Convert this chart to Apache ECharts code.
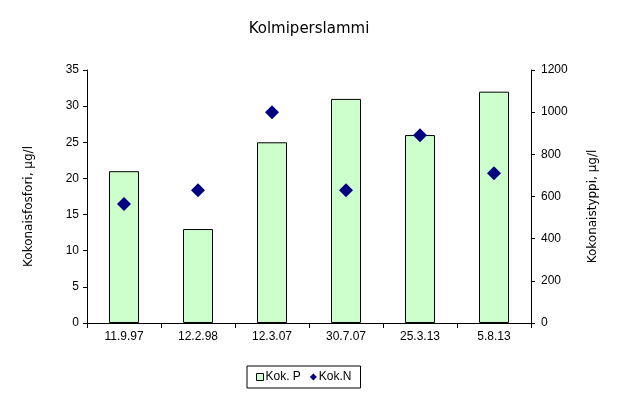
<!DOCTYPE html>
<html><head><meta charset="utf-8">
<script src="https://cdn.jsdelivr.net/npm/echarts@6/dist/echarts.min.js"></script>
<style>html,body{margin:0;padding:0;background:#fff}#c{width:618px;height:396px}</style>
</head><body><div id="c"></div>
<script>
const categories = ['11.9.97','12.2.98','12.3.07','30.7.07','25.3.13','5.8.13'];
const kokP = [21, 13, 25, 31, 26, 32];
const kokN = [565, 630, 1000, 630, 890, 710];
const leftTicks = [0, 5, 10, 15, 20, 25, 30, 35];
const rightTicks = [0, 200, 400, 600, 800, 1000, 1200];

const F = 'Liberation Sans, Arial, sans-serif';
const T = 'DejaVu Sans, Verdana, sans-serif';
const chart = echarts.init(document.getElementById('c'));
chart.setOption({
  animation: false,
  backgroundColor: '#fff',
  title: { text: 'Kolmiperslammi', left: 'center', top: 17,
    textStyle: { fontFamily: T, fontSize: 15, fontWeight: 'normal', color: '#000' } },
  grid: { left: 87, right: 87, top: 70, bottom: 73 },
  legend: {
    bottom: 8, left: 247, itemWidth: 7, itemHeight: 7, itemGap: 9,
    borderColor: '#000', borderWidth: 1, borderRadius: 0, padding: [5, 9, 5, 9],
    textStyle: { fontFamily: F, fontSize: 12, color: '#000', padding: [0, 0, 0, -3] },
    data: [
      { name: 'Kok. P', icon: 'rect', itemStyle: { color: '#CCFFCC', borderColor: '#000', borderWidth: 1 } },
      { name: 'Kok.N', icon: 'diamond', itemStyle: { color: '#000080', opacity: 1 } }
    ]
  },
  xAxis: {
    type: 'category', data: categories,
    axisLine: { lineStyle: { color: '#000' } },
    axisTick: { show: true, length: 5, lineStyle: { color: '#000' } },
    axisLabel: { fontFamily: F, fontSize: 12, color: '#000', margin: 8 }
  },
  yAxis: [
    { type: 'value', min: 0, max: 35, interval: 5,
      name: 'Kokonaisfosfori, µg/l', nameLocation: 'middle', nameGap: 52, nameRotate: 90,
      nameTextStyle: { fontFamily: T, fontSize: 12, color: '#000', padding: [0, 20, 0, 0] },
      axisLine: { show: true, lineStyle: { color: '#000' } },
      axisTick: { show: true, length: 4, lineStyle: { color: '#000' } },
      axisLabel: { fontFamily: F, fontSize: 12, color: '#000', margin: 8,
        formatter: v => leftTicks.includes(v) ? String(v) : '' },
      splitLine: { show: false } },
    { type: 'value', min: 0, max: 1200, interval: 200, position: 'right',
      name: 'Kokonaistyppi, µg/l', nameLocation: 'middle', nameGap: 56, nameRotate: 90,
      nameTextStyle: { fontFamily: T, fontSize: 12, color: '#000', padding: [0, 20, 0, 0] },
      axisLine: { show: true, lineStyle: { color: '#000' } },
      axisTick: { show: true, length: 4, lineStyle: { color: '#000' } },
      axisLabel: { fontFamily: F, fontSize: 12, color: '#000', margin: 10,
        formatter: v => rightTicks.includes(v) ? String(v) : '' },
      splitLine: { show: false } }
  ],
  series: [
    { name: 'Kok. P', type: 'bar', data: kokP, yAxisIndex: 0, barWidth: 30,
      itemStyle: { color: '#CCFFCC', borderColor: '#000', borderWidth: 1 } },
    { name: 'Kok.N', type: 'scatter', data: kokN, yAxisIndex: 1, symbol: 'diamond', symbolSize: 14,
      itemStyle: { color: '#000080', opacity: 1 } }
  ]
});
</script></body></html>
